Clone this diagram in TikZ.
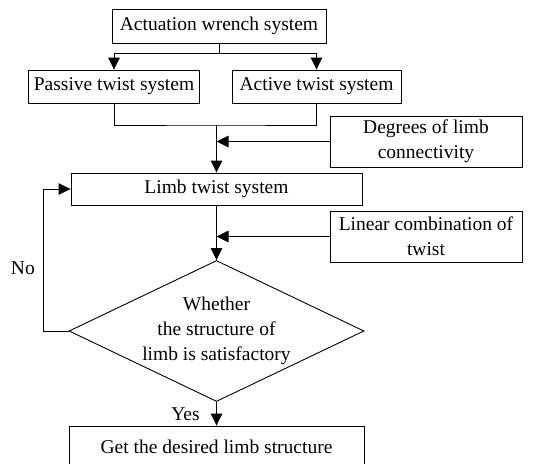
\documentclass[tikz,border=0pt]{standalone}
\usepackage{fontspec}
\setmainfont{Liberation Serif}
\usetikzlibrary{positioning,shapes.geometric,arrows.meta}

\begin{document}
\begin{tikzpicture}[
  x=1pt,y=-1pt,
  font=\fontsize{19.5}{25}\selectfont,
  block/.style={rectangle,draw,line width=0.9pt,inner sep=2pt,align=center},
  decision/.style={diamond,draw,line width=0.9pt,inner sep=0pt,aspect=2.09,
                   align=center,minimum width=295pt,minimum height=141pt},
  arr/.style={-{Triangle[length=12pt,width=11.5pt]},line width=0.9pt},
  line/.style={line width=0.9pt}
]
\useasboundingbox (0,0) rectangle (545,463);
\clip (0,0) rectangle (545,463);

\node[block,minimum width=214pt,minimum height=34pt] (act)  at (219,26)    {Actuation wrench system};
\node[block,minimum width=171pt,minimum height=33pt] (pas)  at (114,86.5)  {Passive twist system};
\node[block,minimum width=169pt,minimum height=33pt] (actv) at (316.5,86.5) {Active twist system};
\node[block,minimum width=192pt,minimum height=51pt] (deg)  at (426,141.5) {Degrees of limb\\connectivity};
\node[block,minimum width=291pt,minimum height=32pt] (limb) at (216.5,189) {Limb twist system};
\node[block,minimum width=192pt,minimum height=51pt] (lin)  at (426,236.5) {Linear combination of\\twist};
\node[decision] (dia) at (216.5,331) {Whether\\the structure of\\limb is satisfactory};
\node[block,minimum width=295pt,minimum height=42pt] (res)  at (216.5,447) {Get the desired limb structure};

\coordinate (split) at (219,53);
\coordinate (join)  at (216.5,125);

\draw[line] (act.south) -- (split);
\draw[arr]  (split) -| (pas.north);
\draw[arr]  (split) -| (actv.north);
\draw[line] (pas.south) |- (join) -| (actv.south);
\draw[arr]  (join) -- (limb.north);
\draw[arr]  (deg.west) -- (deg.west -| limb.north);
\draw[arr]  (limb.south) -- (dia.north);
\draw[arr]  (lin.west) -- (lin.west -| limb.south);
\draw[arr]  (dia.west) -- ++(-25,0) |- node[pos=0.22,left=5pt]{No} (limb.west);
\draw[arr]  (dia.south) -- node[left=13pt]{Yes} (res.north);

\end{tikzpicture}
\end{document}
